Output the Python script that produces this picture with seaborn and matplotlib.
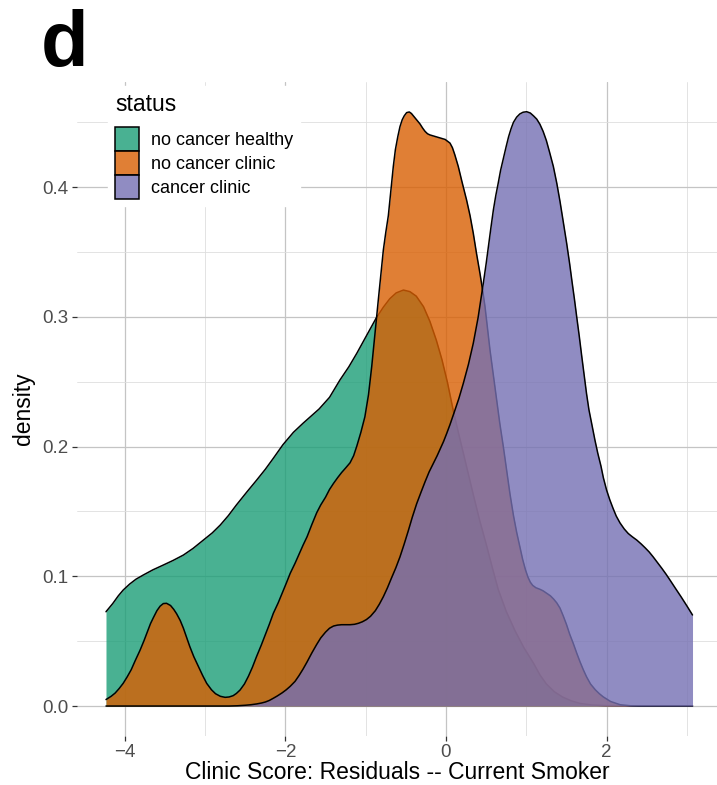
import numpy as np
import pandas as pd
import matplotlib
matplotlib.use("Agg")
import matplotlib.pyplot as plt
from matplotlib.patches import Patch
from matplotlib.ticker import MultipleLocator, FixedLocator
import seaborn as sns

# ---- data (density curves) ----
groups = ["no cancer healthy", "no cancer clinic", "cancer clinic"]

green_x = [-4.234, -4.15, -4.08, -4.02, -3.94, -3.86, -3.77, -3.65, -3.52, -3.40,
           -3.27, -3.15, -3.02, -2.91, -2.81, -2.71, -2.61, -2.48, -2.36, -2.25,
           -2.15, -2.03, -1.90, -1.78, -1.68, -1.58, -1.45, -1.32, -1.21, -1.11,
           -0.99, -0.87, -0.78, -0.70, -0.62, -0.53, -0.45, -0.37, -0.28, -0.20,
           -0.12, -0.05, 0.02, 0.09, 0.15, 0.22, 0.34, 0.42, 0.5, 0.58,
           0.65, 0.75, 0.86, 0.97, 1.09, 1.17, 1.25, 1.35, 1.45, 1.56,
           1.67, 1.82, 2.0, 2.5, 3.07]
green_y = [0.0727, 0.079, 0.0850, 0.0894, 0.0940, 0.0978, 0.1010, 0.1050, 0.1087, 0.1122,
           0.1164, 0.1215, 0.128, 0.1335, 0.1396, 0.1468, 0.155, 0.165, 0.174, 0.1825,
           0.191, 0.2015, 0.211, 0.218, 0.2235, 0.229, 0.238, 0.2514, 0.2615, 0.272,
           0.2855, 0.299, 0.3075, 0.314, 0.3185, 0.3207, 0.3195, 0.316, 0.3079, 0.2965,
           0.282, 0.267, 0.249, 0.228, 0.212, 0.194, 0.163, 0.143, 0.125, 0.106,
           0.090, 0.073, 0.058, 0.045, 0.033, 0.024, 0.017, 0.011, 0.007, 0.004,
           0.002, 0.0008, 0.0003, 0.0, 0.0]

orange_x = [-4.234, -4.17, -4.12, -4.07, -4.02, -3.97, -3.92, -3.87, -3.81, -3.76,
            -3.72, -3.68, -3.645, -3.60, -3.56, -3.52, -3.48, -3.43, -3.39, -3.355,
            -3.31, -3.27, -3.23, -3.19, -3.14, -3.08, -3.03, -2.98, -2.92, -2.87,
            -2.81, -2.75, -2.70, -2.65, -2.61, -2.565, -2.51, -2.46, -2.41, -2.36,
            -2.30, -2.25, -2.20, -2.15, -2.09, -2.04, -1.99, -1.94, -1.88, -1.83,
            -1.78, -1.73, -1.67, -1.61, -1.56, -1.50, -1.45, -1.40, -1.35, -1.30,
            -1.25, -1.195, -1.15, -1.11, -1.06, -1.01, -0.965, -0.925, -0.885, -0.843,
            -0.81, -0.78, -0.75, -0.718, -0.685, -0.656, -0.63, -0.60, -0.573, -0.545,
            -0.52, -0.49, -0.457, -0.43, -0.40, -0.36, -0.324, -0.29, -0.26, -0.23,
            -0.2, -0.14, -0.075, -0.01, 0.05, 0.08, 0.11, 0.153, 0.20, 0.257,
            0.30, 0.34, 0.38, 0.423, 0.455, 0.486, 0.515, 0.548, 0.59, 0.631,
            0.67, 0.714, 0.755, 0.797, 0.84, 0.88, 0.92, 0.955, 0.99, 1.02,
            1.05, 1.08, 1.12, 1.17, 1.21, 1.254, 1.30, 1.34, 1.38, 1.42,
            1.46, 1.50, 1.54, 1.585, 1.63, 1.67, 1.71, 1.75, 1.80, 1.86,
            1.91, 1.96, 2.05, 2.17, 2.3, 2.4, 3.07]
orange_y = [0.005, 0.0075, 0.010, 0.0135, 0.0175, 0.0225, 0.028, 0.0350, 0.043, 0.0505,
            0.057, 0.0635, 0.0680, 0.0735, 0.0770, 0.0790, 0.0792, 0.0775, 0.0745, 0.0712,
            0.0660, 0.060, 0.053, 0.0458, 0.0380, 0.030, 0.0235, 0.0175, 0.0125, 0.0095,
            0.0075, 0.0067, 0.0070, 0.0080, 0.0097, 0.0123, 0.0170, 0.023, 0.030, 0.038,
            0.047, 0.055, 0.063, 0.0715, 0.0795, 0.087, 0.0945, 0.1023, 0.110, 0.117,
            0.124, 0.1305, 0.140, 0.149, 0.155, 0.161, 0.167, 0.1717, 0.176, 0.180,
            0.1835, 0.1875, 0.193, 0.2005, 0.211, 0.223, 0.240, 0.2616, 0.287, 0.313,
            0.333, 0.3516, 0.365, 0.378, 0.398, 0.416, 0.429, 0.439, 0.4467, 0.452,
            0.455, 0.4575, 0.458, 0.4568, 0.4545, 0.4515, 0.4488, 0.4455, 0.443, 0.4412,
            0.4403, 0.4392, 0.4380, 0.4368, 0.4340, 0.4305, 0.4250, 0.416, 0.404, 0.390,
            0.378, 0.3645, 0.349, 0.3336, 0.321, 0.3079, 0.292, 0.2745, 0.255, 0.236,
            0.218, 0.200, 0.182, 0.1635, 0.147, 0.134, 0.123, 0.113, 0.105, 0.0995,
            0.0955, 0.093, 0.0912, 0.0900, 0.0888, 0.0869, 0.0850, 0.0825, 0.0795, 0.0755,
            0.0695, 0.0630, 0.0555, 0.0483, 0.0405, 0.0340, 0.0280, 0.0226, 0.0170, 0.0125,
            0.0095, 0.0070, 0.0035, 0.0010, 0.0002, 0.0, 0.0]

purple_x = [-4.234, -2.7, -2.6, -2.5, -2.43, -2.36, -2.30, -2.25, -2.20, -2.15,
            -2.10, -2.04, -1.99, -1.94, -1.88, -1.83, -1.78, -1.73, -1.67, -1.61,
            -1.56, -1.50, -1.45, -1.40, -1.35, -1.30, -1.25, -1.195, -1.14, -1.09,
            -1.04, -0.99, -0.94, -0.88, -0.83, -0.78, -0.73, -0.68, -0.625, -0.573,
            -0.52, -0.47, -0.42, -0.365, -0.31, -0.26, -0.21, -0.158, -0.11, -0.07,
            -0.03, 0.008, 0.05, 0.10, 0.16, 0.216, 0.28, 0.34, 0.40, 0.465,
            0.50, 0.53, 0.56, 0.59, 0.62, 0.65, 0.68, 0.714, 0.75, 0.78,
            0.81, 0.84, 0.88, 0.92, 0.96, 1.005, 1.05, 1.09, 1.13, 1.17,
            1.21, 1.25, 1.29, 1.337, 1.38, 1.42, 1.46, 1.503, 1.54, 1.57,
            1.60, 1.628, 1.66, 1.69, 1.72, 1.75, 1.78, 1.82, 1.855, 1.89,
            1.93, 1.96, 2.0, 2.04, 2.08, 2.12, 2.167, 2.22, 2.27, 2.32,
            2.375, 2.43, 2.48, 2.53, 2.58, 2.635, 2.69, 2.74, 2.79, 2.86,
            2.93, 3.00, 3.07]
purple_y = [0.0, 0.0, 0.0002, 0.0006, 0.0010, 0.0016, 0.0023, 0.0031, 0.0043, 0.0060,
            0.0078, 0.0102, 0.0125, 0.0152, 0.0190, 0.0235, 0.0285, 0.0340, 0.0410, 0.0475,
            0.0525, 0.0570, 0.0600, 0.0617, 0.0624, 0.0627, 0.0627, 0.0627, 0.0630, 0.0638,
            0.0650, 0.0667, 0.0692, 0.0735, 0.0785, 0.0843, 0.0910, 0.0985, 0.1065, 0.1150,
            0.1250, 0.1350, 0.1455, 0.1560, 0.1650, 0.1730, 0.1805, 0.1870, 0.1930, 0.1985,
            0.2040, 0.2100, 0.2170, 0.2260, 0.2370, 0.2488, 0.2635, 0.2797, 0.2995, 0.3260,
            0.3410, 0.3550, 0.3690, 0.3824, 0.3935, 0.4030, 0.4130, 0.4220, 0.4315, 0.4390,
            0.4450, 0.4500, 0.4540, 0.4565, 0.4578, 0.4582, 0.4572, 0.4550, 0.4525, 0.4485,
            0.4430, 0.4360, 0.4270, 0.4160, 0.4030, 0.3890, 0.3735, 0.3567, 0.3410, 0.3270,
            0.3135, 0.3000, 0.2850, 0.2700, 0.2555, 0.2410, 0.2285, 0.2160, 0.2050, 0.1950,
            0.1850, 0.1760, 0.1665, 0.1590, 0.1525, 0.1465, 0.1412, 0.1365, 0.1330, 0.1305,
            0.1280, 0.1250, 0.1220, 0.1188, 0.1150, 0.1105, 0.1060, 0.1017, 0.0971, 0.0905,
            0.0840, 0.0772, 0.0702]

x_ticks = [-4, -2, 0, 2]
y_ticks = [0.0, 0.1, 0.2, 0.3, 0.4]

frames = []
for g, xs, ys in zip(groups, [green_x, orange_x, purple_x], [green_y, orange_y, purple_y]):
    frames.append(pd.DataFrame({"status": g, "x": xs, "density": ys}))
df = pd.concat(frames, ignore_index=True)

# ---- style ----
sns.set_theme(style="white")
plt.rcParams["font.family"] = ["Liberation Sans", "DejaVu Sans"]
plt.rcParams["text.color"] = "black"
plt.rcParams["axes.labelcolor"] = "black"

palette = sns.color_palette("Dark2", 3)
alpha = 0.8

fig = plt.figure(figsize=(7.17, 7.85), dpi=100)
ax = fig.add_axes([77 / 717, (785 - 736) / 785, 640 / 717, 654 / 785])

for i, g in enumerate(groups):
    sub = df[df["status"] == g]
    ax.fill_between(sub["x"], 0, sub["density"], color=palette[i], alpha=alpha,
                    linewidth=0, zorder=1 + i * 0.2)
    sns.lineplot(data=sub, x="x", y="density", color="black", sort=False,
                 estimator=None, linewidth=1.1, ax=ax, zorder=1.1 + i * 0.2)
for line in ax.get_lines():
    line.set_solid_joinstyle("round")

ax.set_xlim(-4.595, 3.375)
ax.set_ylim(-0.0231, 0.4811)

ax.xaxis.set_major_locator(FixedLocator(x_ticks))
ax.yaxis.set_major_locator(FixedLocator(y_ticks))
ax.xaxis.set_minor_locator(MultipleLocator(1))
ax.yaxis.set_minor_locator(MultipleLocator(0.05))
ax.set_yticklabels([f"{v:.1f}" for v in y_ticks])

ax.grid(which="major", color="#C4C4C4", linewidth=0.9)
ax.grid(which="minor", color="#DEDEDE", linewidth=0.6)
ax.set_axisbelow(True)
for s in ax.spines.values():
    s.set_visible(False)

ax.tick_params(which="major", length=3.5, width=0.9, color="#333333",
               labelsize=13.5, labelcolor="#4D4D4D", pad=2.5, bottom=True, left=True)
ax.tick_params(which="minor", length=0)

ax.set_xlabel("Clinic Score: Residuals -- Current Smoker", fontsize=16.5, color="black", labelpad=0)
ax.set_ylabel("density", fontsize=16.5, color="black", labelpad=5)

handles = []
for i, g in enumerate(groups):
    handles.append(Patch(facecolor=(*palette[i], alpha), edgecolor="black",
                         linewidth=1.1, label=g))
leg = ax.legend(handles=handles, title="status", loc="upper left",
                bbox_to_anchor=((108 - 77) / 640, 1 - (86 - 82) / 654),
                fontsize=13, title_fontsize=16.5, alignment="left",
                handlelength=1.33, handleheight=1.667, labelspacing=0.0,
                handletextpad=0.66, borderaxespad=0, borderpad=0.39,
                frameon=True, fancybox=False, framealpha=1, facecolor="white",
                edgecolor="white", labelcolor="black")
leg.get_title().set_color("black")
leg._legend_box.sep = 7.9
leg.set_zorder(5)

fig.text(41 / 717, 1 - 66 / 785, "d", fontsize=56, fontweight="bold", color="black",
         va="baseline", ha="left")

fig.savefig("out.png", dpi=100)
